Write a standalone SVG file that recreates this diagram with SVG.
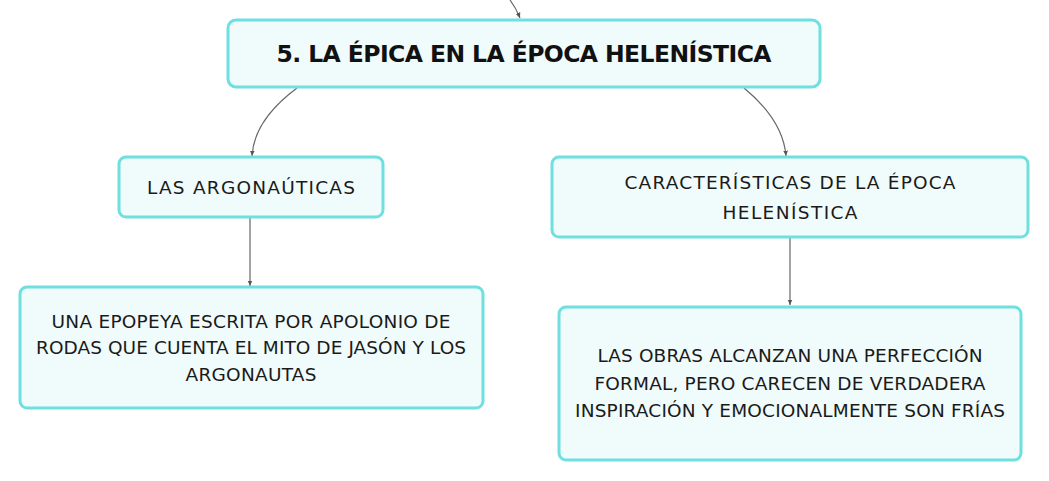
<svg xmlns="http://www.w3.org/2000/svg" width="1049" height="481" viewBox="0 0 1049 481">
<defs>
<marker id="arr" viewBox="0 0 10 10" refX="9" refY="5" markerWidth="6" markerHeight="6" orient="auto-start-reverse" markerUnits="userSpaceOnUse">
<path d="M0,1 L9,5 L0,9 z" fill="#555"/>
</marker>
<style>
.box{fill:#f0fbfb;stroke:#6fdfe0;stroke-width:3}
.t{font-family:"DejaVu Sans","Liberation Sans",sans-serif;font-size:18.5px;fill:#1a1a1a;text-anchor:middle}
.tb{font-family:"DejaVu Sans","Liberation Sans",sans-serif;font-size:23.5px;font-weight:bold;fill:#111;text-anchor:middle}
.c{fill:none;stroke:#666;stroke-width:1.2;marker-end:url(#arr)}
</style>
</defs>
<rect width="1049" height="481" fill="#ffffff"/>
<g id="connectors">
<path class="c" d="M510,0 Q516,8 520,18"/>
<path class="c" d="M297,88 Q254,120 252,156"/>
<path class="c" d="M744,88 Q783,120 786,156"/>
<path class="c" d="M250,218 L250,286"/>
<path class="c" d="M790,238 L790,305"/>
</g>
<g id="root">
<rect class="box" x="228" y="20" width="592" height="67" rx="8"/>
<text class="tb" x="524" y="62" textLength="495" lengthAdjust="spacing">5. LA ÉPICA EN LA ÉPOCA HELENÍSTICA</text>
</g>
<g id="argonauticas">
<rect class="box" x="119" y="157" width="264" height="60" rx="7"/>
<text class="t" x="251" y="194" textLength="208" lengthAdjust="spacing">LAS ARGONAÚTICAS</text>
</g>
<g id="caracteristicas">
<rect class="box" x="552" y="157" width="476" height="80" rx="7"/>
<text class="t" x="790" y="189" textLength="331" lengthAdjust="spacing">CARACTERÍSTICAS DE LA ÉPOCA</text>
<text class="t" x="790" y="219" textLength="135" lengthAdjust="spacing">HELENÍSTICA</text>
</g>
<g id="epopeya">
<rect class="box" x="20" y="287" width="463" height="121" rx="7"/>
<text class="t" x="251" y="328" textLength="399" lengthAdjust="spacing">UNA EPOPEYA ESCRITA POR APOLONIO DE</text>
<text class="t" x="251" y="354" textLength="430" lengthAdjust="spacing">RODAS QUE CUENTA EL MITO DE JASÓN Y LOS</text>
<text class="t" x="251" y="381" textLength="131" lengthAdjust="spacing">ARGONAUTAS</text>
</g>
<g id="obras">
<rect class="box" x="559" y="307" width="462" height="153" rx="7"/>
<text class="t" x="790" y="362" textLength="385" lengthAdjust="spacing">LAS OBRAS ALCANZAN UNA PERFECCIÓN</text>
<text class="t" x="790" y="390" textLength="391" lengthAdjust="spacing">FORMAL, PERO CARECEN DE VERDADERA</text>
<text class="t" x="790" y="417" textLength="430" lengthAdjust="spacing">INSPIRACIÓN Y EMOCIONALMENTE SON FRÍAS</text>
</g>
</svg>
